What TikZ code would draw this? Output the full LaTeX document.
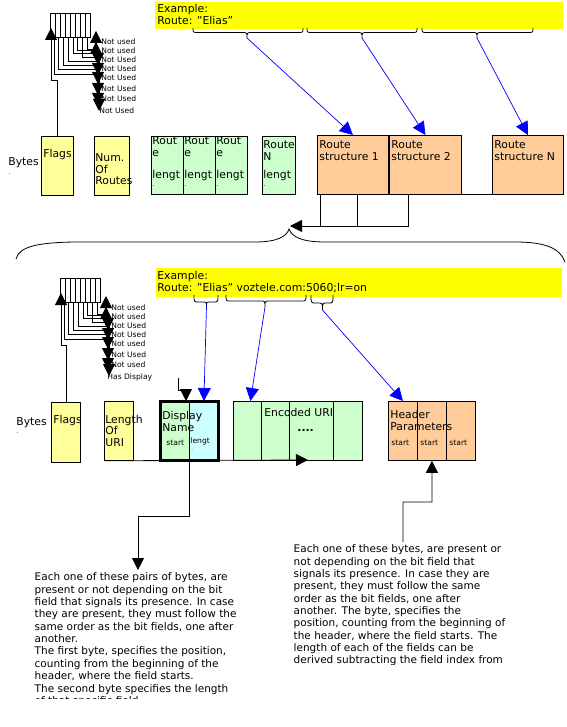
\documentclass[tikz,border=0pt]{standalone}
\usepackage{fontspec}
\setmainfont{DejaVu Sans}
\usetikzlibrary{arrows.meta,calc}
\definecolor{exyellow}{HTML}{FFFF00}
\definecolor{flagyellow}{HTML}{FFFF99}
\definecolor{boxgreen}{HTML}{CCFFCC}
\definecolor{boxcyan}{HTML}{CCFFFF}
\definecolor{boxorange}{HTML}{FFCC99}
\newcommand\mybrace[7]{%
  \coordinate (#7) at (#5,#6);
  \draw (#1,#3) .. controls (#1,#4) .. (#1+5,#4) -- (#5-5,#4) .. controls (#5,#4) .. (#7) .. controls (#5,#4) .. (#5+5,#4) -- (#2-5,#4) .. controls (#2,#4) .. (#2,#3);}
\newcommand\mybitgroup[5]{%
  \begin{scope}[shift={(#2,#3)}]
    \node[bitbox] (#1box) at (50,13) {};
    \foreach \k in {1,...,7} \draw (50+\k*5,13) -- (50+\k*5,37);
    \draw[blk] (#4.north) |- (51,80) -- (51,28);
    \foreach \t/\lx/\ly/\cx/\h/\ty/\ax [count=\j] in {#5} {
      \node[small] (#1l\j) at (\lx,\ly) {\t};
      \coordinate (#1c\j) at (\cx,37);
      \coordinate (#1t\j) at (\ax,\ty);
      \draw[blk] (#1c\j) |- (\ax,\h) -- (#1t\j);
    }
  \end{scope}}
\begin{document}
\begin{tikzpicture}[x=1pt,y=-1pt,line width=0.8pt,
  box/.style={draw,anchor=north west,inner sep=0pt,line width=0.8pt},
  bitbox/.style={box,minimum width=40pt,minimum height=24pt},
  txt/.style={anchor=north west,inner sep=0pt,align=left,font=\fontsize{10.8}{11.8}\selectfont},
  one/.style={anchor=base west,inner sep=0pt,font=\fontsize{10.8}{11.8}\selectfont},
  small/.style={anchor=base west,inner sep=0pt,font=\fontsize{7.6}{8}\selectfont},
  tiny dot/.style={anchor=base west,inner sep=0pt,font=\fontsize{6}{6}\selectfont},
  body/.style={anchor=north west,inner sep=0pt,align=left,font=\fontsize{10.5}{12.35}\selectfont},
  blk/.style={-{Triangle[length=12pt,width=12pt]}},
  bluearrow/.style={draw=blue,-{Triangle[length=13pt,width=13pt]},line width=0.7pt}]
\useasboundingbox (0,0) rectangle (566,727);

% ===== top part =====
\node[box,draw=none,fill=exyellow,minimum width=408pt,minimum height=27pt] (ex1) at (155,2) {};
\node[txt] (ex1t) at (157,3.6) {Example:\\Route: "Elias"};
\mybrace{193}{303}{28}{32.5}{247}{38}{t1}
\mybrace{307}{417}{28}{32.5}{362}{38}{t2}
\mybrace{422}{533}{28}{32.5}{477}{38}{t3}

\node[one] (by1) at (8,165.7) {Bytes};
\node[tiny dot] (by1d) at (8.5,174.5) {.};
\node[box,fill=flagyellow,minimum width=32pt,minimum height=59pt] (flags1) at (41,136) {};
\node[one] (flags1t) at (43,157.3) {Flags};
\node[box,fill=flagyellow,minimum width=35pt,minimum height=59pt] (nr) at (94,136) {};
\node[txt] (nrt) at (95,153) {Num.\\Of\\Routes};
\foreach \n/\x in {g1/151,g2/183,g3/215}{
  \node[box,fill=boxgreen,minimum width=32pt,minimum height=58pt] (\n) at (\x,136) {};
  \node[txt] (\n a) at (\x+1,136.3) {Rout\\e};
  \node[one] (\n b) at (\x+1,179) {lengt};
  \node[tiny dot] (\n c) at (\x+1.5,187) {.};
}
\node[box,fill=boxgreen,minimum width=33pt,minimum height=58pt] (gN) at (262,136) {};
\node[txt] (gNa) at (263,140.4) {Route\\N};
\node[one] (gNb) at (263,179) {lengt};
\node[tiny dot] (gNc) at (263.5,187) {.};

\node[box,fill=boxorange,minimum width=71pt,minimum height=59pt] (rs1) at (317,135) {};
\node[box,fill=boxorange,minimum width=72pt,minimum height=59pt] (rs2) at (389,135) {};
\node[box,fill=boxorange,minimum width=71pt,minimum height=59pt] (rsN) at (492,135) {};
\node[txt] (rs1t) at (319,140.4) {Route\\structure 1};
\node[txt] (rs2t) at (391,140.4) {Route\\structure 2};
\node[txt] (rsNt) at (494,140.4) {Route\\structure N};
\draw (rs2.south east) -- (rsN.south west);

\draw[bluearrow] (t1) -- (rs1.north);
\draw[bluearrow] (t2) -- (rs2.north);
\draw[bluearrow] (t3) -- (rsN.north);

\mybitgroup{u}{0}{0}{flags1}{Not used/101/45/87/49/31/96, Not used/101/54/82/57/42/96, Not Used/101/63/73/53/65/98, Not Used/101/72/68/61/75/98, Not Used/101/81/63/65/84/98, Not Used/101/92/58/69/95/98, Not Used/101/102/54/74/105/98, Not Used/99/114/77/50/111/99}

% connectors under route structures
\coordinate (c1) at ($(rs1.south west)+(3,0)$);
\coordinate (c2) at ($(rs1.south west)+(40,0)$);
\coordinate (c3) at ($(rs2.south west)+(19,0)$);
\coordinate (ltip) at (290,226);
\draw (c1) -- (c1 |- ltip);
\draw (c2) -- (c2 |- ltip);
\draw[blk] (c3) |- (ltip);

% big brace
\coordinate (bt) at (289,229);
\draw (16,259) .. controls (19,246) and (40,242.5) .. (75,242) -- (255,242) .. controls (278,242) and (287,236) .. (bt) .. controls (292,237) and (302,242) .. (325,242) -- (515,242) .. controls (545,242) and (560,248) .. (565,262);

% ===== lower part =====
\node[box,draw=none,fill=exyellow,minimum width=406pt,minimum height=29pt] (ex2) at (156,268) {};
\node[txt] (ex2t) at (157,271.1) {Example:\\Route: "Elias" voztele.com:5060;lr=on};
\mybrace{194}{218}{295}{302}{206.5}{306}{la}
\mybrace{226}{306}{295}{301}{265}{307}{lb}
\mybrace{311}{333}{295}{303}{322.5}{310}{lc}

\node[one] (by2) at (16,425) {Bytes};
\node[tiny dot] (by2d) at (16.5,433.5) {.};
\node[box,fill=flagyellow,minimum width=29pt,minimum height=60pt] (flags2) at (51,402) {};
\node[one] (flags2t) at (53,423.3) {Flags};
\node[box,fill=flagyellow,minimum width=29pt,minimum height=59pt] (len) at (104,401) {};
\node[txt] (lent) at (105,414.5) {Length\\Of\\URI};

\node[box,fill=boxgreen,minimum width=29pt,minimum height=59pt] (dn1) at (160,401) {};
\node[box,fill=boxcyan,minimum width=29pt,minimum height=59pt] (dn2) at (189,401) {};
\draw[line width=3pt] (dn1.north west) rectangle (dn2.south east);
\node[txt] (dnt) at (162,411) {Display\\Name};
\node[small] (dns) at (166,445.7) {start};
\node[small] (dnl) at (190,443.5) {lengt};
\node[anchor=base west,inner sep=0pt,font=\fontsize{5}{5}\selectfont] (dnd) at (191,450.5) {.};

\foreach \n/\x/\w in {e1/233/28,e2/261/28,e3/289/44,e4/333/29}
  \node[box,fill=boxgreen,minimum width=\w pt,minimum height=59pt] (\n) at (\x,401) {};
\node[one] (et) at (264,416.3) {Encoded URI};
\node[one,font=\fontsize{10.8}{11.8}\selectfont\bfseries] (edots) at (297,431.5) {....};

\foreach \n/\x in {h1/388,h2/417,h3/446}{
  \node[box,fill=boxorange,minimum width=29pt,minimum height=59pt] (\n) at (\x,401) {};
  \node[small] (\n s) at (\x+3,445.7) {start};
}
\node[txt] (ht) at (390,410) {Header\\Parameters};

\draw[bluearrow] (la) -- (dn2.north);
\draw[bluearrow] (lb) -- ($(e1.north)+(3,0)$);
\draw[bluearrow] (lc) -- (h1.north);

\coordinate (dstart) at (178,378);
\draw[blk] (dstart) |- (186,390) -- (186,401);

\coordinate (uriend) at (308,460);
\draw[blk] (len.south west) -- (uriend);

\mybitgroup{d}{10}{265}{flags2}{Not used/101/45/87/49/31/96, Not used/101/54/82/57/42/96, Not Used/101/63/73/53/65/98, Not Used/101/72/68/61/75/98, Not used/101/81/63/65/84/98, Not Used/101/92/58/69/95/98, Not used/101/102/54/74/105/98, Has Display/97/114/77/50/111/99}

% notes
\coordinate (n1tip) at (138,570);
\draw[blk] (dn1.south east) |- (138,516) -- (n1tip);
\coordinate (hstart) at (403,542);
\draw[blk] (hstart) |- (432,502) -- (h2.south);

\begin{scope}
\clip (0,0) rectangle (566,698.5);
\node[body] (note1) at (34.3,572.5) {Each one of these pairs of bytes, are\\present or not depending on the bit\\field that signals its presence. In case\\they are present, they must follow the\\same order as the bit fields, one after\\another.\\The first byte, specifies the position,\\counting from the beginning of the\\header, where the field starts.\\The second byte specifies the length\\of that specific field.};
\end{scope}
\begin{scope}
\clip (0,0) rectangle (566,664.5);
\node[body] (note2) at (293.3,544.3) {Each one of these bytes, are present or\\not depending on the bit field that\\signals its presence. In case they are\\present, they must follow the same\\order as the bit fields, one after\\another. The byte, specifies the\\position, counting from the beginning of\\the header, where the field starts. The\\length of each of the fields can be\\derived subtracting the field index from\\the next one.};
\end{scope}
\end{tikzpicture}
\end{document}
